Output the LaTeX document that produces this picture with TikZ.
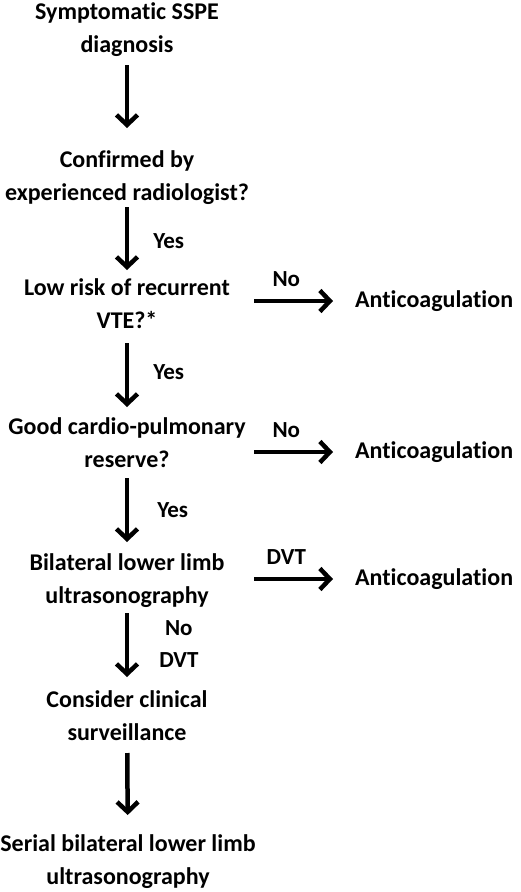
\documentclass[tikz,border=0pt]{standalone}
\usepackage{fontspec}
\setmainfont{Carlito}[Ligatures=NoCommon]
\usetikzlibrary{arrows.meta}
\tikzset{
  stepbox/.style={font=\bfseries\fontsize{24}{33}\selectfont, align=center, inner sep=0pt},
  endbox/.style={font=\bfseries\fontsize{24}{32}\selectfont, anchor=west, inner sep=0pt},
  lab/.style={font=\bfseries\fontsize{23}{32}\selectfont, align=center, inner sep=0pt},
  varr/.style={line width=4.5pt, -{Straight Barb[length=10pt,width=21pt]}},
}
\begin{document}
\begin{tikzpicture}[x=1pt,y=-1pt]
\useasboundingbox (0,0) rectangle (520,892);

% main column
\node[stepbox] (diag) at (127,30) {Symptomatic SSPE\\diagnosis};
\node[stepbox] (conf) at (127,177.5) {Confirmed by\\experienced radiologist?};
\node[stepbox] (risk) at (127,304) {Low risk of recurrent\\VTE?*};
\node[stepbox] (card) at (127,442.5) {Good cardio-pulmonary\\reserve?};
\node[stepbox] (usg) at (127,581) {Bilateral lower limb\\ultrasonography};
\node[stepbox] (surv) at (127,715.5) {Consider clinical\\surveillance};
\node[stepbox] (serial) at (128,862) {Serial bilateral lower limb\\ultrasonography};

% right column
\node[endbox] (ac1) at (355,301) {Anticoagulation};
\node[endbox] (ac2) at (355,452) {Anticoagulation};
\node[endbox] (ac3) at (355,579) {Anticoagulation};

% downward arrows
\draw[varr, shorten <=35pt, shorten >=49.5pt] (diag.center) -- (conf.center);
\draw[varr, shorten <=29.5pt, shorten >=34pt] (conf.center) -- (risk.center)
  node[lab, pos=0.5, right=24pt] {Yes};
\draw[varr, shorten <=39pt, shorten >=35.5pt] (risk.center) -- (card.center)
  node[lab, pos=0.49, right=24pt] {Yes};
\draw[varr, shorten <=35.5pt, shorten >=39pt] (card.center) -- (usg.center)
  node[lab, pos=0.49, right=28pt] {Yes};
\draw[varr, shorten <=32pt, shorten >=38.5pt] (usg.center) -- (surv.center)
  node[lab, pos=0.47, right=30pt] {No\\DVT};
\draw[varr, shorten <=37.5pt, shorten >=47pt] (surv.center) -- (serial.center);

% arrows to the right
\draw[varr, shorten >=22pt] ([xshift=-101pt]ac1.west) -- (ac1.west)
  node[lab, pos=0.32, above=12pt] {No};
\draw[varr, shorten >=22pt] ([xshift=-101pt]ac2.west) -- (ac2.west)
  node[lab, pos=0.32, above=12pt] {No};
\draw[varr, shorten >=22pt] ([xshift=-101pt]ac3.west) -- (ac3.west)
  node[lab, pos=0.32, above=12pt] {DVT};
\end{tikzpicture}
\end{document}
